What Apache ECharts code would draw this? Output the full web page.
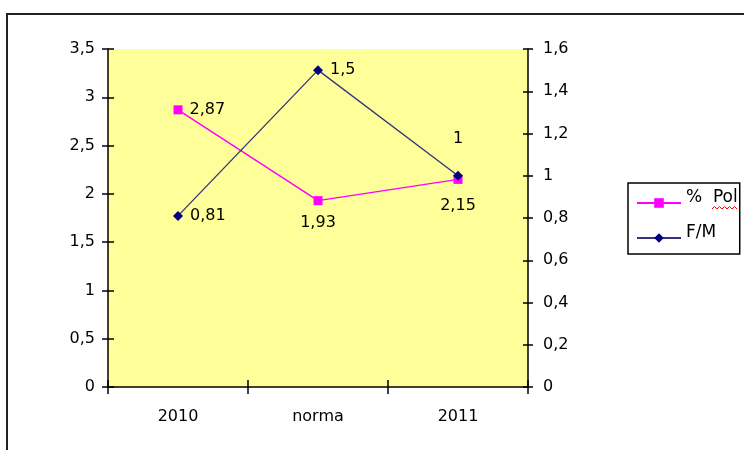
<!DOCTYPE html>
<html>
<head>
<meta charset="utf-8">
<script src="https://cdn.jsdelivr.net/npm/echarts@6/dist/echarts.min.js"></script>
<style>
  html, body { margin: 0; padding: 0; background: #fff; }
  #chart { width: 744px; height: 450px; }
</style>
</head>
<body>
<div id="chart"></div>
<script>
// Categories and series values
const categories = ['2010', 'norma', '2011'];
const polValues = [2.87, 1.93, 2.15];   // % Pol, left axis
const fmValues = [0.81, 1.5, 1];        // F/M, right axis
const leftTicks = { min: 0, max: 3.5, interval: 0.5 };
const rightTicks = { min: 0, max: 1.6, interval: 0.2 };
const seriesNames = ['%  Pol', 'F/M'];

const FONT = 'DejaVu Sans';
const comma = v => String(v).replace('.', ',');

// label placement per point
const polLabelPos = ['right', 'bottom', 'bottom'];
const fmLabelPos = ['right', 'right', 'top'];

const chart = echarts.init(document.getElementById('chart'), null, { renderer: 'canvas' });

const axisLine = { show: true, lineStyle: { color: '#000', width: 1.5 } };
const tickStyle = { color: '#000', width: 1.5 };

// each value axis is drawn twice: once with outer ticks and labels, once with inner ticks,
// so the tick marks cross the axis line
function yAxisPair(pos, ticks, labelMargin, tickLen) {
  return [
    {
      type: 'value', position: pos, min: ticks.min, max: ticks.max, interval: ticks.interval,
      axisLine: axisLine,
      axisTick: { show: true, length: tickLen, lineStyle: tickStyle },
      splitLine: { show: false },
      axisLabel: { color: '#000', fontFamily: FONT, fontSize: 16, margin: labelMargin, formatter: comma }
    },
    {
      type: 'value', position: pos, min: ticks.min, max: ticks.max, interval: ticks.interval,
      axisLine: { show: false },
      axisTick: { show: true, inside: true, length: tickLen, lineStyle: tickStyle },
      splitLine: { show: false },
      axisLabel: { show: false }
    }
  ];
}

const leftPair = yAxisPair('left', leftTicks, 13, 6);
const rightPair = yAxisPair('right', rightTicks, 15, 5);

function makeLabels(values, positions, distances) {
  return values.map((v, i) => ({
    value: v,
    label: { position: positions[i], distance: distances[i] }
  }));
}

const labelBase = { show: true, color: '#000', fontFamily: FONT, fontSize: 16, formatter: p => comma(p.value) };

const option = {
  backgroundColor: '#fff',
  animation: false,
  grid: {
    left: 108, top: 49, right: 216, bottom: 63,
    show: true, backgroundColor: '#FFFF99', borderWidth: 0
  },
  legend: {
    orient: 'vertical',
    left: 628, top: 183,
    padding: [6, 2, 2, 8],
    itemWidth: 44, itemHeight: 12, itemGap: 7,
    borderColor: '#000', borderWidth: 1.5,
    formatter: name => '{t|' + name + '}',
    textStyle: {
      color: '#000', fontFamily: FONT, fontSize: 17,
      rich: { t: { fontFamily: FONT, fontSize: 17, color: '#000', lineHeight: 20, padding: [0, 0, 11, 0] } }
    },
    data: seriesNames
  },
  xAxis: [
    {
      type: 'category', data: categories, position: 'bottom', boundaryGap: true,
      axisLine: axisLine,
      axisTick: { show: true, length: 7, lineStyle: tickStyle },
      axisLabel: { color: '#000', fontFamily: FONT, fontSize: 16, margin: 22 }
    },
    {
      type: 'category', data: categories, position: 'bottom', boundaryGap: true,
      axisLine: { show: false },
      axisTick: { show: true, inside: true, length: 7, lineStyle: tickStyle },
      axisLabel: { show: false }
    }
  ],
  yAxis: [leftPair[0], rightPair[0], leftPair[1], rightPair[1]],
  series: [
    {
      name: seriesNames[0], type: 'line', yAxisIndex: 0,
      data: makeLabels(polValues, polLabelPos, [7, 10, 14]),
      symbol: 'rect', symbolSize: 9,
      itemStyle: { color: '#FF00FF' },
      lineStyle: { color: '#FF00FF', width: 1.5 },
      label: labelBase
    },
    {
      name: seriesNames[1], type: 'line', yAxisIndex: 1,
      data: makeLabels(fmValues, fmLabelPos, [7, 7, 24]),
      symbol: 'diamond', symbolSize: 10,
      itemStyle: { color: '#000080' },
      lineStyle: { color: '#33337f', width: 1.3 },
      label: labelBase
    }
  ],
  graphic: [
    {
      // outer frame, open to the right and bottom
      type: 'rect', z: -10,
      shape: { x: 7, y: 14, width: 800, height: 500 },
      style: { fill: 'none', stroke: '#222', lineWidth: 2 }
    },
    {
      // spell-check squiggle under "Pol" in the legend
      type: 'polyline', z: 100,
      shape: { points: [[712, 209], [714.5, 206.5], [717, 209], [719.5, 206.5], [722, 209], [724.5, 206.5], [727, 209], [729.5, 206.5], [732, 209], [734.5, 206.5], [737, 209]] },
      style: { fill: 'none', stroke: '#ff0000', lineWidth: 1 }
    }
  ]
};

chart.setOption(option);
</script>
</body>
</html>
